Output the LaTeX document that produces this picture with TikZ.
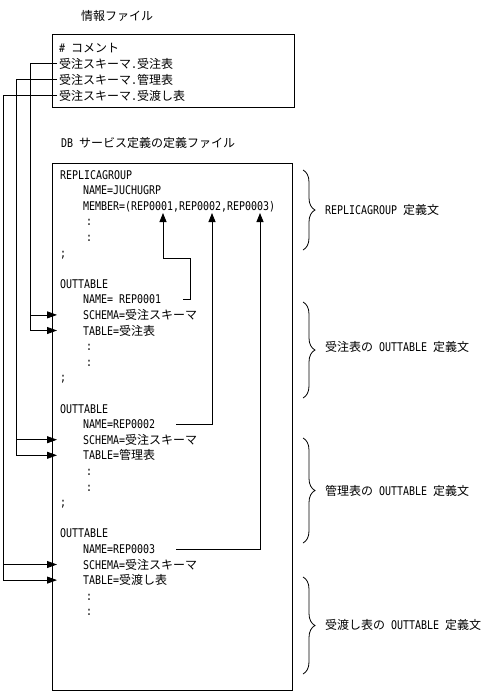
\documentclass[tikz,border=0pt]{standalone}
\usepackage{fontspec}
\setmainfont{Noto Sans CJK JP}
\newfontfamily\codefont[FakeStretch=0.83]{DejaVu Sans Mono}
\usetikzlibrary{arrows.meta,decorations.pathreplacing}
\newcommand\jpf{\rmfamily}
\tikzset{
    codeln/.style={anchor=base west,inner sep=0pt,text height=9pt,text depth=0pt,font=\fontsize{12}{14}\codefont},
    jpln/.style={anchor=base west,inner xsep=2pt,inner ysep=0pt,text height=9pt,text depth=0pt,font=\fontsize{12}{14}\selectfont},
    brlabel/.style={anchor=west,inner sep=0pt,text height=9pt,text depth=0pt,font=\fontsize{12}{14}\selectfont},
    filebox/.style={draw,line width=0.8pt,anchor=north west,inner sep=0pt},
    wire/.style={line width=0.8pt},
    uparr/.style={wire,-{Triangle[length=9pt,width=7pt]}},
    inarr/.style={wire,-{Triangle[length=10pt,width=7pt]},shorten >=-5pt},
    brc/.style={wire,decorate,decoration={brace,amplitude=12pt}}
}
\begin{document}
\begin{tikzpicture}[x=1pt,y=-1pt]
    \useasboundingbox (0,0) rectangle (485,691);
    \node[jpln] (ttl1) at (79,20) {情報ファイル};
    \node[filebox,minimum width=242pt,minimum height=73pt] (info) at (52,34) {};
    \node[jpln] (cmt) at (57,52) {{\codefont\# }コメント};
    \node[jpln] (j1) at (57,68) {受注スキーマ{\codefont.}受注表};
    \node[jpln] (j2) at (57,84) {受注スキーマ{\codefont.}管理表};
    \node[jpln] (j3) at (57,100) {受注スキーマ{\codefont.}受渡し表};
    \node[jpln] (ttl2) at (59,147) {{\codefont DB }サービス定義の定義ファイル};
    \node[filebox,minimum width=240pt,minimum height=527pt] (dbf) at (52,163) {};
    \begin{scope}[shift={(0,179)},y=-15.6pt]
        \node[codeln] (rg) at (60,0) {REPLICAGROUP};
        \node[codeln] (gn) at (83,1) {NAME=JUCHUGRP};
        \node[codeln] (mb) at (83,2) {MEMBER=(REP0001,REP0002,REP0003)};
        \node[codeln] (ot1) at (60,7) {OUTTABLE};
        \node[codeln] (n1) at (83,8) {NAME= REP0001};
        \node[codeln] (sc1) at (83,9) {SCHEMA={\jpf 受注スキーマ}};
        \node[codeln] (tb1) at (83,10) {TABLE={\jpf 受注表}};
        \node[codeln] (ot2) at (60,15) {OUTTABLE};
        \node[codeln] (n2) at (83,16) {NAME=REP0002};
        \node[codeln] (sc2) at (83,17) {SCHEMA={\jpf 受注スキーマ}};
        \node[codeln] (tb2) at (83,18) {TABLE={\jpf 管理表}};
        \node[codeln] (ot3) at (60,23) {OUTTABLE};
        \node[codeln] (n3) at (83,24) {NAME=REP0003};
        \node[codeln] (sc3) at (83,25) {SCHEMA={\jpf 受注スキーマ}};
        \node[codeln] (tb3) at (83,26) {TABLE={\jpf 受渡し表}};
        \foreach \i in {3,4,11,12,19,20,27,28} {
            \node[codeln] (dt\i) at (86,\i) {:};
        }
        \foreach \i in {5,13,21} {
            \node[codeln] (sm\i) at (60,\i) {;};
        }
    \end{scope}
    \coordinate (m1) at (163,213);
    \coordinate (m2) at (212,213);
    \coordinate (m3) at (260,213);
    \coordinate (b1) at (30,0);
    \coordinate (b2) at (16,0);
    \coordinate (b3) at (3,0);
    \draw[uparr] ([xshift=22pt]n1.east) -- ++(7,0) -- ++(0,-41) -| (m1);
    \draw[uparr] ([xshift=21pt]n2.east) -| (m2);
    \draw[uparr] ([xshift=21pt]n3.east) -| (m3);
    \draw[inarr] (j1.west) -| (b1 |- tb1.west) -- (tb1.west -| dbf.west);
    \draw[inarr] (b1 |- sc1.west) -- (sc1.west -| dbf.west);
    \draw[inarr] (j2.west) -| (b2 |- tb2.west) -- (tb2.west -| dbf.west);
    \draw[inarr] (b2 |- sc2.west) -- (sc2.west -| dbf.west);
    \draw[inarr] (j3.west) -| (b3 |- tb3.west) -- (tb3.west -| dbf.west);
    \draw[inarr] (b3 |- sc3.west) -- (sc3.west -| dbf.west);
    \draw[brc] (303,170) -- (303,250);
    \node[brlabel] (bl1) at (325,210) {{\codefont REPLICAGROUP }定義文};
    \draw[brc] (303,302) -- (303,398);
    \node[brlabel] (bl2) at (325,347) {受注表の{\codefont\ OUTTABLE }定義文};
    \draw[brc] (303,438) -- (303,543);
    \node[brlabel] (bl3) at (325,491) {管理表の{\codefont\ OUTTABLE }定義文};
    \draw[brc] (303,577) -- (303,674);
    \node[brlabel] (bl4) at (325,625) {受渡し表の{\codefont\ OUTTABLE }定義文};
\end{tikzpicture}
\end{document}
